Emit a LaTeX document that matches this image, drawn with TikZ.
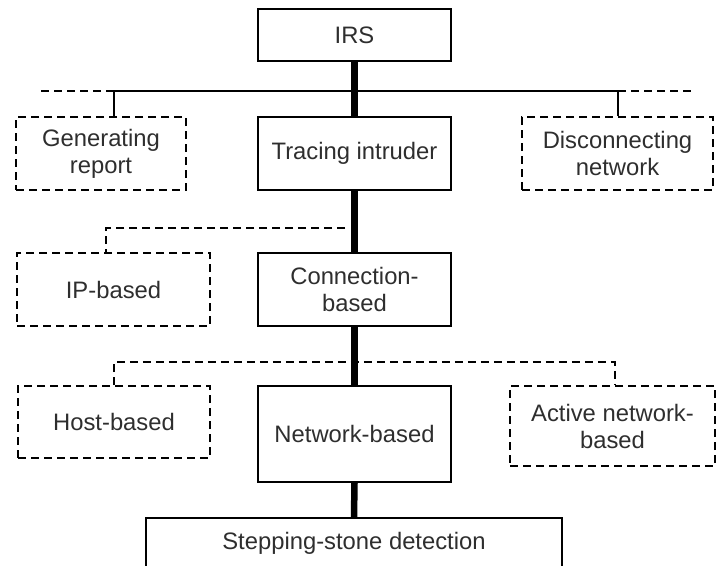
\documentclass[tikz,border=0pt]{standalone}
\usepackage{fontspec}
\setmainfont{Liberation Sans}[FakeStretch=1.0]
\begin{document}
\begin{tikzpicture}[x=1pt,y=-1pt,
  every node/.style={font=\fontsize{23.8}{27}\selectfont, text=black!82, align=center, inner sep=0pt},
  solidbox/.style={draw=black, line width=1.8pt, minimum width=#1},
  dashbox/.style={draw=black, line width=1.9pt, dash pattern=on 8pt off 5pt, minimum width=#1},
  thick line/.style={line width=6.5pt},
  thin line/.style={line width=1.4pt},
  dash line/.style={line width=1.5pt, dash pattern=on 8pt off 5pt}]
\useasboundingbox (0,0) rectangle (717,565);
% nodes
\node[solidbox=193pt, minimum height=52pt] (irs) at (354.5,35) {IRS};
\node[dashbox=170pt, minimum height=73pt] (gen) at (101,153.5) {Generating\\report};
\node[solidbox=193pt, minimum height=73pt] (trace) at (354.5,153.5) {Tracing intruder};
\node[dashbox=191pt, minimum height=73pt] (disc) at (617.5,153.5) {Disconnecting\\network};
\node[dashbox=193pt, minimum height=73pt] (ip) at (113.5,289.5) {IP-based};
\node[solidbox=193pt, minimum height=73pt] (conn) at (354.5,289.5) {Connection-\\based};
\node[dashbox=192pt, minimum height=72pt] (host) at (114,422) {Host-based};
\node[solidbox=193pt, minimum height=96pt] (net) at (354.5,434) {Network-based};
\node[dashbox=205pt, minimum height=80pt] (act) at (612.5,426) {Active network-\\based};
\node[solidbox=416pt, minimum height=50pt] (step) at (354,543) {Stepping-stone detection};
% junction coordinates
\coordinate (hl) at (41,91);
\coordinate (j1) at (114,91);
\coordinate (j2) at (618,91);
\coordinate (hr) at (691,91);
\coordinate (ipj) at (345,228);
\coordinate (ipk) at (106,228);
\coordinate (hj) at (114,362);
\coordinate (aj) at (615,362);
% thick spine
\draw[thick line] (irs.south) -- (trace.north);
\draw[thick line] (trace.south) -- (conn.north);
\draw[thick line] (conn.south) -- (net.north);
\draw[thick line] (net.south) -- (step.north);
% top branch
\draw[thin line] (j1) -- (j2);
\draw[dash line] (hl) -- (j1);
\draw[dash line] (j2) -- (hr);
\draw[thin line] (j1) -- (j1 |- gen.north);
\draw[thin line] (j2) -- (j2 |- disc.north);
% IP branch
\draw[dash line] (ipj) -- (ipk) -- (ipk |- ip.north);
% host / active branch
\draw[dash line] (hj |- host.north) -- (hj) -- (aj) -- (aj |- act.north);
\end{tikzpicture}
\end{document}
